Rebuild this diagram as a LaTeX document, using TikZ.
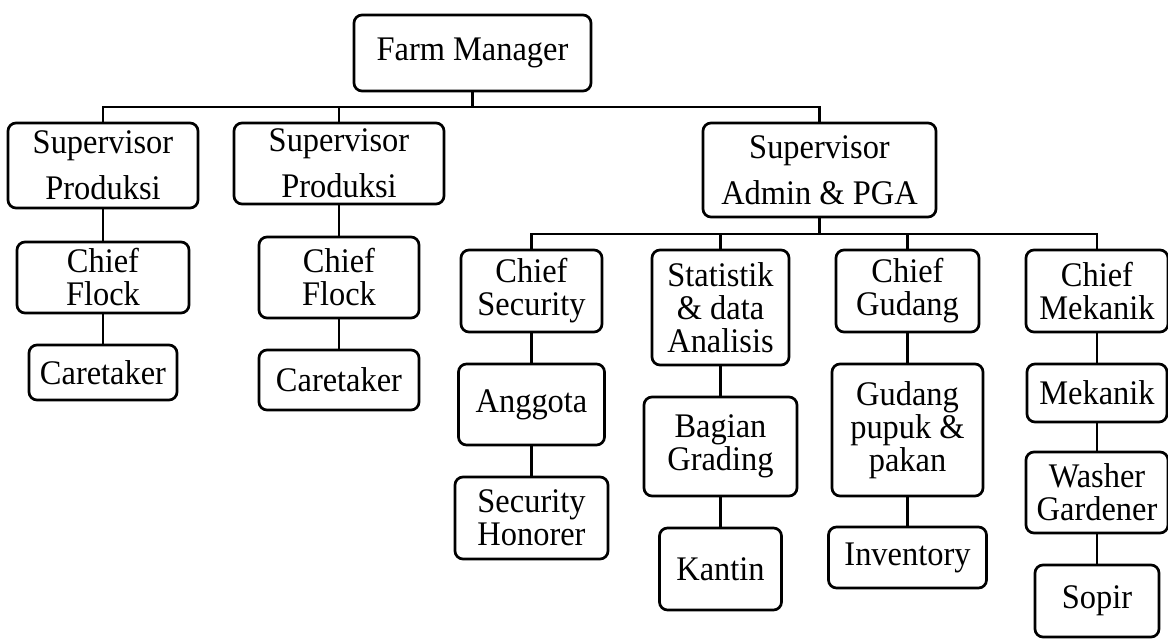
\documentclass[tikz,border=0pt]{standalone}
\usepackage{fontspec}
\setmainfont{Liberation Serif}[FakeStretch=0.94]
\begin{document}
\begin{tikzpicture}[x=1pt,y=1pt,
  box/.style={draw=black, line width=2.7pt, rounded corners=8pt, align=center,
    inner sep=0pt, font=\fontsize{34.5}{33}\selectfont},
  supbox/.style={box, font=\fontsize{34.5}{46}\selectfont},
  conn/.style={draw=black, line width=2.7pt}]
\useasboundingbox[fill=white] (0,0) rectangle (1168,-641);
% level 0
\node[box, minimum width=237, minimum height=76] (fm) at (472.5,-53) {Farm Manager};
% level 1
\node[supbox, minimum width=190, minimum height=85] (sup1) at (103,-165.5) {Supervisor\\Produksi};
\node[supbox, minimum width=210, minimum height=81] (sup2) at (339,-163.5) {Supervisor\\Produksi};
\node[supbox, minimum width=233, minimum height=94] (supa) at (819.5,-170) {Supervisor\\Admin \& PGA};
% production chains
\node[box, minimum width=172, minimum height=71] (cf1) at (103,-277.5) {Chief\\Flock};
\node[box, minimum width=148, minimum height=55] (ct1) at (103,-372.5) {Caretaker};
\node[box, minimum width=160, minimum height=81] (cf2) at (339,-277.5) {Chief\\Flock};
\node[box, minimum width=160, minimum height=60] (ct2) at (339,-380) {Caretaker};
% admin children
\node[box, minimum width=141, minimum height=82] (cs) at (531.5,-291) {Chief\\Security};
\node[box, minimum width=146, minimum height=81] (ang) at (531.5,-404.5) {Anggota};
\node[box, minimum width=153, minimum height=82] (sh) at (531.5,-518) {Security\\Honorer};
\node[box, minimum width=137, minimum height=115] (stat) at (720.5,-307.5) {Statistik\\\& data\\Analisis};
\node[box, minimum width=153, minimum height=99] (bg) at (720.5,-446.5) {Bagian\\Grading};
\node[box, minimum width=122, minimum height=82] (kan) at (720.5,-569) {Kantin};
\node[box, minimum width=143, minimum height=82] (cg) at (907.5,-291) {Chief\\Gudang};
\node[box, minimum width=151, minimum height=132] (gp) at (907.5,-430) {Gudang\\pupuk \&\\pakan};
\node[box, minimum width=158, minimum height=61] (inv) at (907.5,-557.5) {Inventory};
\node[box, minimum width=142, minimum height=82] (cm) at (1097,-291) {Chief\\Mekanik};
\node[box, minimum width=140, minimum height=58] (mek) at (1097,-393) {Mekanik};
\node[box, minimum width=142, minimum height=81] (wg) at (1097,-492.5) {Washer\\Gardener};
\node[box, minimum width=124, minimum height=72] (sop) at (1097,-601) {Sopir};
% junctions
\coordinate (j1) at (472.5,-107);
\coordinate (j2) at (819.5,-234);
% connectors level 1
\draw[conn] (fm.south) -- (j1);
\draw[conn] (sup1.north) |- (j1) -| (supa.north);
\draw[conn] (sup2.north) -- (sup2.north |- j1);
% production chains
\draw[conn] (sup1.south) -- (cf1.north);
\draw[conn] (cf1.south) -- (ct1.north);
\draw[conn] (sup2.south) -- (cf2.north);
\draw[conn] (cf2.south) -- (ct2.north);
% admin
\draw[conn] (supa.south) -- (j2);
\draw[conn] (cs.north) |- (j2) -| (cm.north);
\draw[conn] (stat.north) -- (stat.north |- j2);
\draw[conn] (cg.north) -- (cg.north |- j2);
\draw[conn] (cs.south) -- (ang.north);
\draw[conn] (ang.south) -- (sh.north);
\draw[conn] (stat.south) -- (bg.north);
\draw[conn] (bg.south) -- (kan.north);
\draw[conn] (cg.south) -- (gp.north);
\draw[conn] (gp.south) -- (inv.north);
\draw[conn] (cm.south) -- (mek.north);
\draw[conn] (mek.south) -- (wg.north);
\draw[conn] (wg.south) -- (sop.north);
\end{tikzpicture}
\end{document}
